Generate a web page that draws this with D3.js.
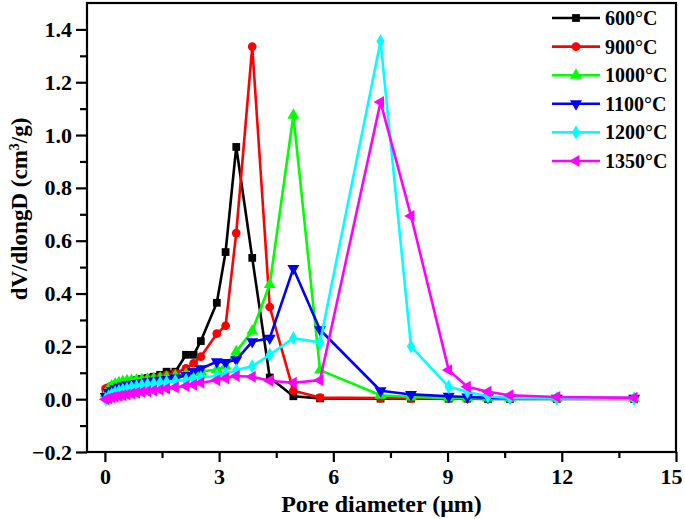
<!DOCTYPE html>
<html>
<head>
<meta charset="utf-8">
<script src="https://cdn.jsdelivr.net/npm/d3@7"></script>
<style>
  html, body { margin: 0; padding: 0; background: #fff; }
  svg { display: block; }
  text { font-family: "Liberation Serif", "Times New Roman", serif; font-weight: bold; fill: #000; }
</style>
</head>
<body>
<svg id="chart" width="685" height="519"></svg>
<script>
// ---------- data ----------
const poreDiameter = [0.02,0.1,0.18,0.27,0.37,0.47,0.58,0.7,0.83,0.97,1.12,1.28,1.45,1.62,1.85,2.13,2.33,2.52,2.94,3.17,3.45,3.87,4.33,4.95,5.65,7.24,8.04,9.03,9.52,10.06,10.64,11.87,13.9];

const s600  = [0.035,0.04,0.045,0.05,0.055,0.06,0.064,0.068,0.072,0.076,0.08,0.085,0.092,0.104,0.104,0.168,0.168,0.22,0.365,0.557,0.955,0.535,0.082,0.011,0.003,0.002,0.002,0.002,0.002,0.001,0.001,0.001,0.001];
const s900  = [0.04,0.045,0.05,0.053,0.056,0.059,0.062,0.065,0.068,0.072,0.076,0.08,0.085,0.092,0.098,0.117,0.136,0.161,0.248,0.278,0.629,1.335,0.349,0.032,0.006,0.004,0.003,0.003,0.003,0.002,0.002,0.002,0.002];
const s1000 = [0.02,0.04,0.05,0.058,0.063,0.067,0.07,0.071,0.072,0.074,0.076,0.078,0.08,0.083,0.088,0.095,0.1,0.105,0.112,0.125,0.18,0.258,0.434,1.075,0.11,0.015,0.008,0.005,0.004,0.004,0.003,0.003,0.003];
const s1100 = [0.01,0.025,0.033,0.04,0.045,0.05,0.054,0.057,0.06,0.063,0.066,0.069,0.072,0.075,0.08,0.09,0.105,0.115,0.142,0.139,0.149,0.218,0.231,0.495,0.263,0.032,0.018,0.011,0.008,0.006,0.005,0.004,0.004];
const s1200 = [0,0.01,0.018,0.025,0.03,0.035,0.039,0.043,0.047,0.051,0.055,0.058,0.061,0.064,0.068,0.072,0.077,0.082,0.088,0.096,0.11,0.125,0.168,0.231,0.215,1.355,0.2,0.047,0.028,0.01,0.005,0.003,0.002];
const s1350 = [0,0.003,0.006,0.009,0.012,0.015,0.018,0.021,0.024,0.027,0.03,0.033,0.036,0.04,0.045,0.05,0.055,0.062,0.072,0.079,0.088,0.085,0.07,0.062,0.072,1.125,0.694,0.11,0.047,0.028,0.015,0.008,0.005];

const seriesNames = ["600°C","900°C","1000°C","1100°C","1200°C","1350°C"];
const seriesValues = [s600, s900, s1000, s1100, s1200, s1350];
const seriesColors = ["#000000","#ff0000","#00ff00","#0000ff","#00ffff","#ff00ff"];
const seriesMarkers = ["square","circle","triUp","triDown","diamond","triLeft"];

const xTicks = [0,3,6,9,12,15];
const yTicks = [-0.2,0,0.2,0.4,0.6,0.8,1.0,1.2,1.4];
const xTitle = "Pore diameter (μm)";

// ---------- layout ----------
const svg = d3.select("#chart");
const L = 87, R = 676, T = 3, B = 452;
const x = d3.scaleLinear().domain([-0.47, 15]).range([L, R]);
const y = d3.scaleLinear().domain([-0.2, 1.5]).range([B, T]);

// minor ticks
const yMinor = d3.range(-0.1, 1.5, 0.2);
const xMinor = d3.range(1.5, 15, 3);

const axisG = svg.append("g");
// left axis
const yAxis = d3.axisLeft(y).tickValues(yTicks).tickFormat(d3.format(".1f")).tickSize(11).tickPadding(4);
const gy = axisG.append("g").attr("transform", `translate(${L},0)`).call(yAxis);
gy.selectAll(".tick line").attr("stroke-width", 2.2);
gy.selectAll(".tick text").style("font-size", "22px").style("font-family", '"Liberation Serif", serif').style("font-weight", "bold");
gy.select(".domain").remove();
axisG.append("g").attr("transform", `translate(${L},0)`)
  .call(d3.axisLeft(y).tickValues(yMinor).tickSize(7).tickFormat(""))
  .call(g => g.select(".domain").remove())
  .selectAll(".tick line").attr("stroke-width", 2.2);

// bottom axis
const xAxis = d3.axisBottom(x).tickValues(xTicks).tickFormat(d3.format("d")).tickSize(10).tickPadding(6);
const gx = axisG.append("g").attr("transform", `translate(0,${B})`).call(xAxis);
gx.selectAll(".tick line").attr("stroke-width", 2.2);
gx.selectAll(".tick text").style("font-size", "22px").style("font-family", '"Liberation Serif", serif').style("font-weight", "bold")
  .attr("dx", d => d === 15 ? -5 : 0);
gx.select(".domain").remove();
axisG.append("g").attr("transform", `translate(0,${B})`)
  .call(d3.axisBottom(x).tickValues(xMinor).tickSize(6).tickFormat(""))
  .call(g => g.select(".domain").remove())
  .selectAll(".tick line").attr("stroke-width", 2.2);

// frame
svg.append("rect").attr("x", L).attr("y", T).attr("width", R - L).attr("height", B - T)
  .attr("fill", "none").attr("stroke", "#000").attr("stroke-width", 2.2);

// titles
svg.append("text").attr("x", (L + R) / 2).attr("y", 512).attr("text-anchor", "middle")
  .style("font-size", "24px").text(xTitle);
const yt = svg.append("text").attr("transform", "translate(27,209) rotate(-90)")
  .attr("text-anchor", "middle").style("font-size", "23px");
yt.append("tspan").text("dV/dlongD (cm");
yt.append("tspan").attr("dy", -8).style("font-size", "14px").text("3");
yt.append("tspan").attr("dy", 8).text("/g)");

// ---------- markers ----------
function markerPath(type) {
  switch (type) {
    case "square": return d3.symbol(d3.symbolSquare, 60)();
    case "circle": return d3.symbol(d3.symbolCircle, 60)();
    case "diamond": return d3.symbol(d3.symbolDiamond, 60)();
    default: return d3.symbol(d3.symbolTriangle, 62)();
  }
}
function markerRot(type) {
  if (type === "triDown") return 180;
  if (type === "triLeft") return -90;
  return 0;
}

const line = d3.line().x(d => x(d[0])).y(d => y(d[1]));
const plot = svg.append("g");
seriesValues.forEach((vals, i) => {
  const pts = poreDiameter.map((p, j) => [p, vals[j]]);
  const g = plot.append("g");
  g.append("path").datum(pts).attr("d", line)
    .attr("fill", "none").attr("stroke", seriesColors[i]).attr("stroke-width", 2.6).attr("stroke-linejoin", "round");
  g.selectAll("path.m").data(pts).enter().append("path").attr("class", "m")
    .attr("d", markerPath(seriesMarkers[i]))
    .attr("transform", d => `translate(${x(d[0])},${y(d[1])}) rotate(${markerRot(seriesMarkers[i])})`)
    .attr("fill", seriesColors[i]);
});

// ---------- legend ----------
const leg = svg.append("g");
seriesNames.forEach((name, i) => {
  const ly = 18 + i * 28.6;
  const g = leg.append("g").attr("transform", `translate(0,${ly})`);
  g.append("line").attr("x1", 552).attr("x2", 600).attr("y1", 0).attr("y2", 0)
    .attr("stroke", seriesColors[i]).attr("stroke-width", 2.6);
  g.append("path").attr("d", markerPath(seriesMarkers[i]))
    .attr("transform", `translate(576,0) rotate(${markerRot(seriesMarkers[i])})`)
    .attr("fill", seriesColors[i]);
  g.append("text").attr("x", 605).attr("y", 7).style("font-size", "20px").text(name);
});
</script>
</body>
</html>
